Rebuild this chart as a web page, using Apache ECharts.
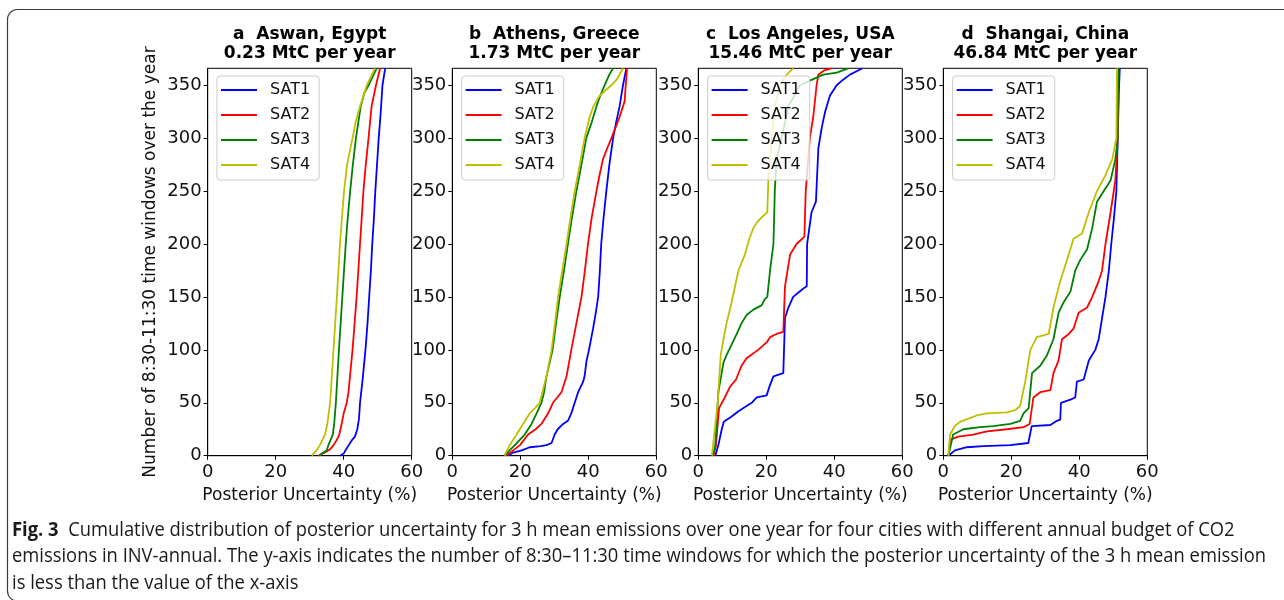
<!DOCTYPE html>
<html>
<head>
<meta charset="utf-8">
<script src="https://cdn.jsdelivr.net/npm/echarts@6/dist/echarts.min.js"></script>
<style>
  html, body { margin: 0; padding: 0; background: #ffffff; }
  #chart { width: 1284px; height: 600px; }
</style>
</head>
<body>
<div id="chart"></div>
<script>
// Cumulative count of time windows [posterior uncertainty (%), count] per city and satellite config

// a  Aswan, Egypt
const aswanSat1 = [[38.9,0],[40,2],[40.5,5],[41.5,10],[42.5,15],[43.3,18],[44,25],[44.5,35],[44.8,50],[45.5,70],[46.4,100],[47,125],[47.5,150],[48,175],[48.4,200],[48.9,225],[49.3,250],[49.8,275],[50.3,300],[50.9,325],[51.4,350],[52.2,366]];
const aswanSat2 = [[32.5,0],[34.5,3],[36,6],[37,10],[38,15],[38.7,20],[39.4,30],[40,40],[40.9,50],[41.4,60],[42,80],[42.6,100],[43.2,125],[43.8,150],[44.3,175],[44.8,200],[45.3,225],[45.8,250],[46.5,275],[47.3,300],[48.2,330],[49.5,350],[50.7,366]];
const aswanSat3 = [[32.8,0],[34,3],[35,5],[35.5,10],[36.8,20],[37.2,30],[37.7,50],[38.6,100],[39.6,150],[40.6,200],[41.2,225],[41.9,250],[42.7,275],[43.6,300],[45,330],[46,342],[47.3,350],[48.5,358],[49.7,366]];
const aswanSat4 = [[30.6,0],[32,5],[33,10],[34.5,20],[35.2,30],[36,50],[37,100],[38,150],[38.9,200],[39.5,225],[40.1,250],[41,275],[42.6,300],[43.5,315],[44.8,330],[46.8,350],[48,358],[49.2,366]];

// b  Athens, Greece
const athensSat1 = [[16.4,0],[17.9,3],[20.4,5],[22.8,8],[26,9],[27.7,10],[29.2,12],[30.1,20],[31,25],[32.6,30],[34,33],[35,40],[36,50],[37,60],[38.5,70],[38.9,75],[39.5,90],[40.2,100],[41.4,120],[42.2,135],[42.9,150],[43.4,175],[43.8,200],[44.5,225],[45.3,250],[46.2,275],[47.3,300],[48.2,315],[49.2,330],[50.2,350],[51.2,366]];
const athensSat2 = [[15.8,0],[17.9,5],[19.9,10],[22.3,20],[24.5,25],[26.2,30],[28.2,40],[29.6,50],[32.1,60],[33.6,75],[35,100],[36.5,125],[38,150],[39,175],[39.9,200],[41,225],[42.4,250],[43.3,265],[44.3,280],[45.5,290],[46.8,300],[48,310],[49.2,320],[50.7,335],[51,350],[51.4,366]];
const athensSat3 = [[15.5,0],[16.8,5],[18.4,10],[21.3,20],[23.3,30],[24.8,40],[26.2,50],[27,60],[27.7,75],[29.5,100],[30.5,125],[31.6,150],[33.1,180],[34,200],[35.2,225],[36.5,250],[38,275],[39.4,300],[41,315],[42.4,330],[43.5,340],[44.8,350],[46.2,360],[47.3,366]];
const athensSat4 = [[15.3,0],[16.9,10],[18.9,20],[20.8,30],[22.8,40],[24.3,45],[25.7,50],[27.7,75],[29.2,100],[30.2,125],[31.1,150],[32.6,180],[33.6,200],[35,230],[36,250],[37.5,275],[38.9,300],[40.4,320],[41.5,330],[43.3,340],[45,345],[46.8,350],[48.5,356],[50.2,366]];

// c  Los Angeles, USA
const laSat1 = [[5,0],[5.9,10],[6.9,25],[7.5,32],[9.8,37],[11.8,42],[14.2,47],[15.7,50],[17.2,55],[20.1,57],[20.9,65],[22.1,75],[25,78],[25.5,78],[25.5,130],[26.5,140],[27.9,150],[30.9,158],[31.9,160],[32,160],[32,200],[33.3,230],[34.6,240],[35.3,290],[36.3,310],[37.3,325],[38.7,340],[40.7,350],[42.5,355],[44.6,360],[48.3,366]];
const laSat2 = [[4.5,0],[5.2,10],[6.1,45],[7.8,55],[9.3,65],[11.1,72],[12.7,85],[14.2,92],[17.6,100],[20.1,107],[21.1,112],[23,115],[25,117],[25.5,117],[25.5,160],[26.5,180],[27,190],[28.9,200],[31.2,207],[31.6,207],[31.6,250],[32.8,300],[33.8,320],[34.8,350],[35.3,360],[37,364],[39.2,366]];
const laSat3 = [[4.3,0],[5,10],[5.9,60],[7.4,88],[8.3,95],[9.8,105],[11.3,115],[12.7,125],[14.2,133],[16.2,138],[18.6,142],[19.6,148],[20.3,150],[21.1,175],[22.1,200],[22.5,250],[23,280],[24.5,300],[26.5,330],[29.9,350],[33.3,355],[36.8,360],[40.7,362],[44.1,366]];
const laSat4 = [[4,0],[5.7,50],[6.6,95],[7.4,110],[8.3,125],[9.8,145],[10.8,160],[11.8,175],[13.7,190],[15,205],[16.2,215],[17.6,222],[19.6,228],[20.3,230],[20.6,260],[21.6,300],[22.5,330],[24,350],[26,360],[27.9,366]];

// d  Shangai, China
const shanghaiSat1 = [[1.5,0],[3.4,5],[6.9,8],[11.8,9],[19.7,10],[25,12],[25.5,12],[26,28],[31.5,29],[33.4,33],[34.4,34],[34.6,50],[37.4,53],[38.8,55],[39.3,70],[41.3,72],[42.8,90],[44.7,100],[45.7,110],[46.7,130],[47.7,150],[48.7,175],[49.4,200],[50.2,225],[50.9,250],[51.3,300],[51.6,340],[51.9,366]];
const shanghaiSat2 = [[1.5,0],[2,15],[4.4,18],[8.8,20],[12.8,23],[18.7,25],[23.6,27],[25.4,30],[26.5,55],[28.5,60],[31.5,62],[32.4,78],[33.9,90],[34.9,110],[36.9,115],[38.3,120],[39.8,135],[42.3,140],[43.8,150],[45.7,165],[46.7,175],[47.7,200],[49.2,230],[50.6,260],[51.3,300],[51.6,366]];
const shanghaiSat3 = [[1.5,0],[2.9,20],[5.9,25],[10.8,27],[14.7,28],[19.7,30],[22.6,33],[23.6,40],[25.1,45],[26.1,78],[28.5,85],[30.5,95],[32.4,110],[33.9,135],[35.4,145],[37.4,155],[38.8,175],[40.3,185],[42.3,195],[43.8,215],[45.2,240],[47.2,250],[49.2,260],[50.6,280],[51.3,300],[51.4,366]];
const shanghaiSat4 = [[1.5,0],[2,20],[3.4,28],[4.9,32],[7.4,35],[9.8,38],[12.8,40],[18.7,41],[21.1,43],[22.6,47],[24.1,70],[25.6,100],[27.5,112],[31,115],[32.4,140],[34.4,165],[36.4,185],[38.3,205],[40.8,210],[42.8,230],[45.2,250],[47.7,265],[49.7,280],[50.9,300],[51.1,366]];

const seriesNames = ['SAT1', 'SAT2', 'SAT3', 'SAT4'];
const panelTitles = [
  'a  Aswan, Egypt\n0.23 MtC per year',
  'b  Athens, Greece\n1.73 MtC per year',
  'c  Los Angeles, USA\n15.46 MtC per year',
  'd  Shangai, China\n46.84 MtC per year'
];
const xTicks = [0, 20, 40, 60];
const yTicks = [0, 50, 100, 150, 200, 250, 300, 350];
const xMax = 60;
const yMax = 366;
const xAxisName = 'Posterior Uncertainty (%)';
const yAxisName = 'Number of 8:30-11:30 time windows over the year';
const captionLines = [
  ['Fig. 3', '  Cumulative distribution of posterior uncertainty for 3 h mean emissions over one year for four cities with different annual budget of CO2'],
  ['', 'emissions in INV-annual. The y-axis indicates the number of 8:30\u201311:30 time windows for which the posterior uncertainty of the 3 h mean emission'],
  ['', 'is less than the value of the x-axis']
];

const panelData = [
  [aswanSat1, aswanSat2, aswanSat3, aswanSat4],
  [athensSat1, athensSat2, athensSat3, athensSat4],
  [laSat1, laSat2, laSat3, laSat4],
  [shanghaiSat1, shanghaiSat2, shanghaiSat3, shanghaiSat4]
];

// look
const lineColors = ['#0000ff', '#ff0000', '#008000', '#bfbf00'];
const FONT = 'DejaVu Sans';
const CAPTION_FONT = 'Open Sans';
const panelLeft = [207.7, 452.3, 698.3, 943.3];
const panelWidth = 204;
const panelTop = 68.3;
const panelHeight = 387.4;

const chart = echarts.init(document.getElementById('chart'), null, { renderer: 'canvas' });

const grids = [], xAxes = [], yAxes = [], series = [], legends = [], titles = [];

panelData.forEach((curves, p) => {
  grids.push({
    left: panelLeft[p], top: panelTop, width: panelWidth, height: panelHeight,
    show: true, borderColor: '#000000', borderWidth: 1, backgroundColor: 'transparent'
  });
  xAxes.push({
    gridIndex: p, type: 'value', min: 0, max: xMax, interval: 20,
    axisLine: { show: true, lineStyle: { color: '#000000', width: 1 } },
    axisTick: { show: true, length: 4, lineStyle: { color: '#000000' }, customValues: xTicks },
    axisLabel: { color: '#111111', fontFamily: FONT, fontSize: 18, lineHeight: 18, margin: 8, customValues: xTicks },
    splitLine: { show: false },
    name: xAxisName, nameLocation: 'middle', nameGap: 31,
    nameTextStyle: { color: '#111111', fontFamily: FONT, fontSize: 17, lineHeight: 18 }
  });
  yAxes.push({
    gridIndex: p, type: 'value', min: 0, max: yMax, interval: 50,
    axisLine: { show: true, lineStyle: { color: '#000000', width: 1 } },
    axisTick: { show: true, length: 4, lineStyle: { color: '#000000' }, customValues: yTicks },
    axisLabel: { color: '#111111', fontFamily: FONT, fontSize: 18, lineHeight: 18, margin: 6, customValues: yTicks },
    splitLine: { show: false },
    name: p === 0 ? yAxisName : '', nameLocation: 'middle', nameGap: 48,
    nameTextStyle: { color: '#111111', fontFamily: FONT, fontSize: 17, lineHeight: 18 }
  });
  curves.forEach((pts, s) => {
    series.push({
      name: seriesNames[s], type: 'line', xAxisIndex: p, yAxisIndex: p,
      data: pts, showSymbol: false, symbol: 'none', animation: false,
      color: lineColors[s],
      lineStyle: { color: lineColors[s], width: 1.8 },
      z: 2 + s
    });
  });
  legends.push({
    orient: 'vertical', left: panelLeft[p] + 9.3, top: 76,
    data: seriesNames, icon: 'rect', itemWidth: 36, itemHeight: 2, itemGap: 7,
    selectedMode: false,
    textStyle: { color: '#111111', fontFamily: FONT, fontSize: 16, lineHeight: 18, padding: [0, 0, 0, 8] },
    padding: [5, 9, 6, 4],
    backgroundColor: 'rgba(255,255,255,0.8)', borderColor: '#cccccc', borderWidth: 1, borderRadius: 3,
    z: 10
  });
  titles.push({
    text: panelTitles[p], left: panelLeft[p] + panelWidth / 2, top: 25, textAlign: 'center', padding: 0,
    textStyle: { fontFamily: FONT, fontWeight: 'bold', fontSize: 17, lineHeight: 19, color: '#000000' }
  });
});

// caption below the panels, squeezed horizontally to the column width
const measureCtx = document.createElement('canvas').getContext('2d');
function textWidth(str, weight, size) {
  measureCtx.font = weight + ' ' + size + 'px "' + CAPTION_FONT + '"';
  return measureCtx.measureText(str).width;
}
const capSize = 20;
const lineWidth2 = textWidth(captionLines[1][1], 'normal', capSize);
const capScale = 1254 / lineWidth2;
const captionY = [530, 556.5, 583];
const captionGraphics = captionLines.map((ln, i) => ({
  type: 'text', x: 12, y: captionY[i], scaleX: capScale, scaleY: 1,
  style: {
    text: (ln[0] ? '{b|' + ln[0] + '}' : '') + '{r|' + ln[1] + '}',
    rich: {
      b: { fontFamily: CAPTION_FONT, fontWeight: 'bold', fontSize: capSize, fill: '#1a1a1a' },
      r: { fontFamily: CAPTION_FONT, fontWeight: 'normal', fontSize: capSize, fill: '#1a1a1a' }
    },
    verticalAlign: 'middle', align: 'left'
  },
  silent: true
}));

chart.setOption({
  animation: false,
  backgroundColor: '#ffffff',
  title: titles,
  grid: grids,
  xAxis: xAxes,
  yAxis: yAxes,
  legend: legends,
  series: series,
  graphic: [
    {
      type: 'rect', silent: true,
      shape: { x: 7.5, y: 9.5, width: 1400, height: 591.5, r: 10 },
      style: { fill: 'none', stroke: '#3a3a3a', lineWidth: 1.2 }
    }
  ].concat(captionGraphics)
});
</script>
</body>
</html>
